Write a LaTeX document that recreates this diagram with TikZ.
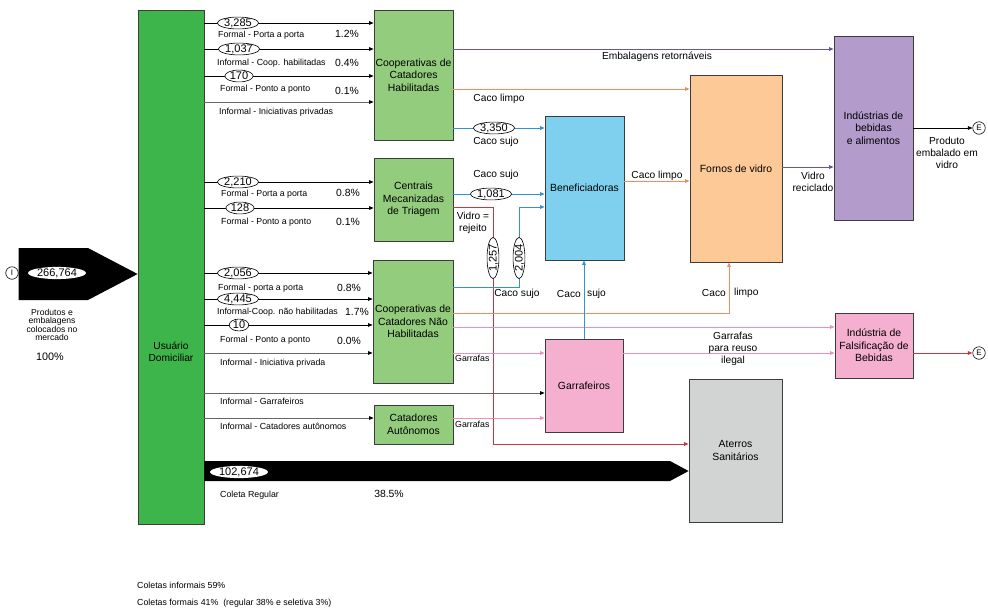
\documentclass[tikz,border=0pt]{standalone}
\usepackage{fontspec}
\setmainfont{Liberation Sans}
\usetikzlibrary{arrows.meta,shapes.geometric}
\definecolor{cusu}{HTML}{3DB54A}
\definecolor{cgreen}{HTML}{93CC7D}
\definecolor{cbenef}{HTML}{7ED0EE}
\definecolor{cforno}{HTML}{FDC997}
\definecolor{cpurp}{HTML}{B39BCB}
\definecolor{cpink}{HTML}{F5AFCF}
\definecolor{cgrey}{HTML}{D2D3D3}
\definecolor{boxline}{HTML}{3C3C3C}
\definecolor{lblue}{HTML}{2F93D6}
\definecolor{lorange}{HTML}{F28C5E}
\definecolor{lpurp}{HTML}{6655A6}
\definecolor{lpink}{HTML}{F28DB8}
\definecolor{lred}{HTML}{C9363E}
\definecolor{ldash}{HTML}{666666}
\tikzset{
 box/.style={draw=boxline, line width=0.8pt, align=center, font=\fontsize{10.4}{12.5}\selectfont, inner sep=1pt},
 arr/.style={-{Triangle[length=4.5pt,width=3.6pt]}},
 kline/.style={arr, draw=black, line width=0.7pt},
 dline/.style={-{Triangle[length=4.5pt,width=3.6pt,black]}, draw=ldash, line width=0.7pt, dash pattern=on 1.2pt off 0.8pt},
 bline/.style={arr, draw=lblue, line width=0.9pt},
 oline/.style={arr, draw=lorange, line width=0.9pt},
 pline/.style={arr, draw=lpurp, line width=0.9pt},
 piline/.style={arr, draw=lpink, line width=0.9pt},
 rline/.style={arr, draw=lred, line width=0.9pt},
 num/.style={draw=black, ellipse, fill=white, line width=0.6pt, inner xsep=0.8pt, inner ysep=0.2pt, text height=7.6pt, text depth=0.4pt, font=\fontsize{11}{11}\selectfont},
 wnum/.style={ellipse, fill=white, inner xsep=0.6pt, inner ysep=0.2pt, text height=7.6pt, text depth=0.6pt, font=\fontsize{11}{11}\selectfont},
 small/.style={font=\fontsize{8.8}{10}\selectfont, anchor=west, inner sep=0},
 pct/.style={font=\fontsize{10.4}{11}\selectfont, inner sep=0},
 lab/.style={font=\fontsize{10.2}{12}\selectfont, align=center, inner sep=0},
 endc/.style={circle, draw=black, line width=0.6pt, minimum size=12.5pt, inner sep=0pt, fill=white, font=\fontsize{8}{8}\selectfont},
}
\begin{document}
\begin{tikzpicture}[x=1pt,y=-1pt]
\useasboundingbox (0,0) rectangle (988,611);

% ---------- boxes ----------
\node[box, fill=cusu, minimum width=66pt, minimum height=514pt] (usu) at (171,267) {};
\node[lab] (usut) at (171,352) {Usuário\\Domiciliar};
\node[box, fill=cgreen, minimum width=79pt, minimum height=130pt] (coopH) at (413.5,75) {Cooperativas de\\Catadores\\Habilitadas};
\node[box, fill=cgreen, minimum width=79pt, minimum height=83pt] (cmt) at (413.5,199.5) {Centrais\\Mecanizadas\\de Triagem};
\node[box, fill=cgreen, minimum width=80pt, minimum height=123pt] (coopNH) at (413,321.5) {Cooperativas de\\Catadores Não\\Habilitadas};
\node[box, fill=cgreen, minimum width=79pt, minimum height=39pt] (catA) at (413.5,424.5) {Catadores\\Autônomos};
\node[box, fill=cbenef, minimum width=79pt, minimum height=144pt] (benef) at (584.5,188) {Beneficiadoras};
\node[box, fill=cpink, minimum width=78pt, minimum height=93pt] (garraf) at (584,385.5) {Garrafeiros};
\node[box, fill=cforno, minimum width=92pt, minimum height=187pt] (fornos) at (736,168.5) {Fornos de vidro};
\node[box, fill=cpurp, minimum width=79pt, minimum height=184pt] (ind) at (873.5,128) {Indústrias de\\bebidas\\e alimentos};
\node[box, fill=cpink, minimum width=78pt, minimum height=65pt] (fals) at (874,345.5) {Indústria de\\Falsificação de\\Bebidas};
\node[box, fill=cgrey, minimum width=93pt, minimum height=143pt] (aterro) at (735.5,450.5) {Aterros\\Sanitários};

% ---------- input ----------
\node[endc] (iin) at (12,273) {I};
\fill[black] (iin.east |- 0,248) -- (88,248) -- (usu.west |- 0,274) -- (88,300) -- (iin.east |- 0,300) -- cycle;
\node[wnum] (n0) at (57,273) {266,764};
\node[font=\fontsize{8.6}{8.6}\selectfont, align=center, inner sep=0] (t0) at (52,325) {Produtos e\\embalagens\\colocados no\\mercado};
\node[pct, font=\fontsize{10.8}{11}\selectfont] (p0) at (50,357) {100\%};

% ---------- usuario -> cooperativas habilitadas ----------
\draw[kline] (usu.east |- 0,23) -- (coopH.west |- 0,23);
\node[num] (n1) at (238,23) {3,285};
\node[small] (s1) at (218,35) {Formal - Porta a porta};
\node[pct] (p1) at (347,34) {1.2\%};
\draw[kline] (usu.east |- 0,49) -- (coopH.west |- 0,49);
\node[num] (n2) at (239,49) {1,037};
\node[small] (s2) at (217,63) {Informal - Coop. habilitadas};
\node[pct] (p2) at (347,63) {0.4\%};
\draw[kline] (usu.east |- 0,76) -- (coopH.west |- 0,76);
\node[num] (n3) at (239,76) {170};
\node[small] (s3) at (220,89) {Formal - Ponto a ponto};
\node[pct] (p3) at (347,91) {0.1\%};
\draw[dline] (usu.east |- 0,102) -- (coopH.west |- 0,102);
\node[small] (s4) at (219,112) {Informal - Iniciativas privadas};

% ---------- usuario -> centrais ----------
\draw[kline] (usu.east |- 0,182) -- (cmt.west |- 0,182);
\node[num] (n5) at (238,182) {2,210};
\node[small] (s5) at (221,194) {Formal - Porta a porta};
\node[pct] (p5) at (348,193) {0.8\%};
\draw[kline] (usu.east |- 0,208) -- (cmt.west |- 0,208);
\node[num] (n6) at (240,208) {128};
\node[small] (s6) at (221,222) {Formal - Ponto a ponto};
\node[pct] (p6) at (348,222) {0.1\%};

% ---------- usuario -> cooperativas nao habilitadas ----------
\draw[kline] (usu.east |- 0,273) -- (coopNH.west |- 0,273);
\node[num] (n7) at (238,273) {2,056};
\node[small] (s7) at (218,288) {Formal - porta a porta};
\node[pct] (p7) at (349,288) {0.8\%};
\draw[kline] (usu.east |- 0,299) -- (coopNH.west |- 0,299);
\node[num] (n8) at (238,299) {4,445};
\node[small] (s8) at (217,312) {Informal-Coop. não habilitadas};
\node[pct] (p8) at (357,312) {1.7\%};
\draw[kline] (usu.east |- 0,325) -- (coopNH.west |- 0,325);
\node[num] (n9) at (239,325) {10};
\node[small] (s9) at (220,340) {Formal - Ponto a ponto};
\node[pct] (p9) at (349,341) {0.0\%};
\draw[dline] (usu.east |- 0,353) -- (coopNH.west |- 0,353);
\node[small] (s10) at (220,363) {Informal - Iniciativa privada};

% ---------- usuario -> garrafeiros / catadores ----------
\draw[dline] (usu.east |- 0,393) -- (garraf.west |- 0,393);
\node[small] (s11) at (220,401) {Informal - Garrafeiros};
\draw[dline] (usu.east |- 0,418) -- (catA.west |- 0,418);
\node[small] (s12) at (220,426) {Informal - Catadores autônomos};

% ---------- coleta regular ----------
\fill[black] (usu.east |- 0,461) -- (670,461) -- (aterro.west |- 0,471) -- (670,481) -- (usu.east |- 0,481) -- cycle;
\node[wnum] (n13) at (239,472) {102,674};
\node[small] (s13) at (220,495) {Coleta Regular};
\node[pct] (p13) at (389,494) {38.5\%};

% ---------- cooperativas habilitadas outputs ----------
\draw[pline] (coopH.east |- 0,49) -- (ind.west |- 0,49);
\node[lab] (l1) at (657,57) {Embalagens retornáveis};
\draw[oline] (coopH.east |- 0,89) -- (fornos.west |- 0,89);
\node[lab] (l2) at (499,99) {Caco limpo};
\draw[bline] (coopH.east |- 0,128) -- (benef.west |- 0,128);
\node[num] (n14) at (494,128) {3,350};
\node[lab] (l3) at (496,142) {Caco sujo};

% ---------- centrais outputs ----------
\draw[bline] (cmt.east |- 0,194) -- (benef.west |- 0,194);
\node[num] (n15) at (491,194) {1,081};
\node[lab] (l4) at (496,175) {Caco sujo};
\draw[rline] (cmt.east |- 0,207) -- (493,207) -- (493,444) -- (aterro.west |- 0,444);
\node[lab] (l5) at (473,223) {Vidro =\\rejeito};
\node[num, rotate=90] (n16) at (493,258) {1,257};

% ---------- cooperativas nao habilitadas outputs ----------
\draw[bline] (coopNH.east |- 0,287) -- (519,287) -- (519,207) -- (benef.west |- 0,207);
\node[num, rotate=90] (n17) at (519,258) {2,004};
\node[lab] (l6) at (517,294) {Caco sujo};
\draw[oline] (coopNH.east |- 0,313) -- (729,313) -- (fornos.south -| 729,0);
\node[lab, anchor=east] (l7a) at (726,293) {Caco};
\node[lab, anchor=west] (l7b) at (734,293) {limpo};
\draw[piline] (coopNH.east |- 0,327) -- (fals.west |- 0,327);
\draw[piline] (coopNH.east |- 0,353) -- (garraf.west |- 0,353);
\node[small] (s14) at (455,358) {Garrafas};
\draw[piline] (catA.east |- 0,418) -- (garraf.west |- 0,418);
\node[small] (s15) at (455,424) {Garrafas};

% ---------- garrafeiros outputs ----------
\draw[bline] (garraf.north) -- (benef.south -| garraf.north);
\node[lab, anchor=east] (l8a) at (581,294) {Caco};
\node[lab, anchor=west] (l8b) at (587,294) {sujo};
\draw[piline] (garraf.east |- 0,353) -- (fals.west |- 0,353);
\node[lab] (l9) at (733,349) {Garrafas\\para reuso\\ilegal};

% ---------- beneficiadoras / fornos / industria ----------
\draw[oline] (benef.east |- 0,181) -- (fornos.west |- 0,181);
\node[lab] (l10) at (657,176) {Caco limpo};
\draw[pline] (fornos.east |- 0,167) -- (ind.west |- 0,167);
\node[lab] (l11) at (813,182) {Vidro\\reciclado};
\node[endc] (e1) at (979,128) {E};
\draw[kline] (ind.east |- 0,128) -- (e1.west);
\node[lab] (l12) at (947,153) {Produto\\embalado em\\vidro};
\node[endc] (e2) at (979,353) {E};
\draw[rline] (fals.east |- 0,353) -- (e2.west);

% ---------- footer ----------
\node[small] (f1) at (137,585) {Coletas informais 59\%};
\node[small] (f2) at (137,603) {Coletas formais 41\%\ \ (regular 38\% e seletiva 3\%)};
\end{tikzpicture}
\end{document}
